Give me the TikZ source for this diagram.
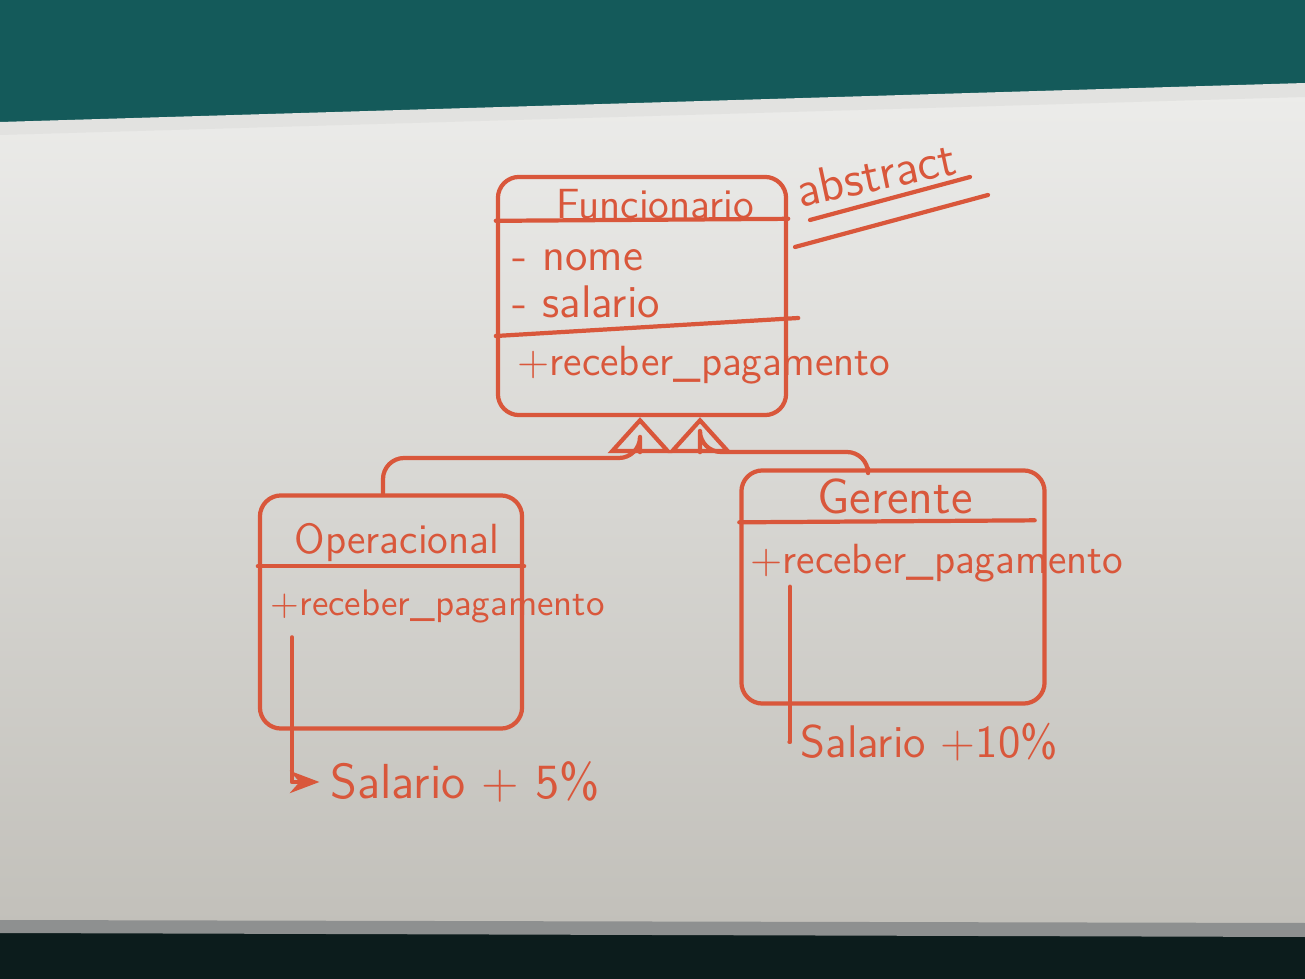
\documentclass[tikz,border=0pt]{standalone}
\usepackage{fontspec}
\usetikzlibrary{calc, positioning, arrows.meta}

\definecolor{marker}{HTML}{D9573B}
\definecolor{wall}{HTML}{145A5A}
\definecolor{walldark}{HTML}{0C1C1C}
\definecolor{boardtop}{HTML}{ECECEA}
\definecolor{boardbot}{HTML}{C2C0BA}
\definecolor{frametop}{HTML}{E2E2E0}
\definecolor{framebot}{HTML}{8E9090}

\newcommand{\penfont}[1]{\sffamily\fontsize{#1}{#1}\selectfont}

\begin{document}
\begin{tikzpicture}[x=0.01cm, y=-0.01cm, >=Stealth,
    pen/.style={draw=marker, line width=1.2pt, line cap=round, line join=round},
    classbox/.style={pen, rectangle, rounded corners=6pt, inner sep=0pt},
    hand/.style={text=marker, inner sep=0pt, font=\penfont{12}},
    inherit/.style={pen, rounded corners=6pt, -{Triangle[open, length=0.36cm, width=0.64cm]}}]

  % Wall and whiteboard
  \useasboundingbox (0,0) rectangle (1305,979);
  \fill[wall] (0,0) rectangle (1305,979);
  \fill[walldark] (0,926) -- (1305,930) -- (1305,979) -- (0,979) -- cycle;
  \shade[top color=boardtop, bottom color=boardbot] (0,130) -- (1305,92) -- (1305,925) -- (0,922) -- cycle;
  \fill[frametop] (0,122) -- (1305,83) -- (1305,97) -- (0,135) -- cycle;
  \fill[framebot] (0,920) -- (1305,923) -- (1305,937) -- (0,933) -- cycle;

  % Funcionario class
  \node[classbox, minimum width=2.88cm, minimum height=2.38cm] (func) at (642,296) {};
  \node[hand] (functitle) at (655,204) {Funcionario};
  \draw[pen] ($(func.north west)+(0,46)$) -- ($(func.north east)+(0,44)$);
  \node[hand, anchor=west, font=\penfont{13}] (nome) at (512,260) {- nome};
  \node[hand, anchor=west, font=\penfont{13}] (salario) at (512,302) {- salario};
  \draw[pen] ($(func.west)+(0,40)$) -- ($(func.east)+(10,22)$);
  \node[hand, anchor=west] (funcmeth) at (517,365) {+receber\_pagamento};

  % abstract
  \node[hand, font=\penfont{14}, rotate=12] (abs) at (876,174) {abstract};
  \draw[pen] (810,220) -- (970,177);
  \draw[pen] (795,247) -- (988,195);

  % Operacional class
  \node[classbox, minimum width=2.62cm, minimum height=2.33cm] (oper) at (391,612) {};
  \node[hand] (opertitle) at (397,543) {Operacional};
  \draw[pen] ($(oper.north west)+(0,73)$) -- ($(oper.north east)+(0,73)$);
  \node[hand, anchor=west, font=\penfont{10.5}] (opermeth) at (270,606) {+receber\_pagamento};

  % Gerente class
  \node[classbox, minimum width=3.03cm, minimum height=2.33cm] (ger) at (893,587) {};
  \node[hand, font=\penfont{14}] (gertitle) at (895,496) {Gerente};
  \draw[pen] ($(ger.north west)+(0,54)$) -- ($(ger.north east)+(-12,52)$);
  \node[hand, anchor=west] (germeth) at (750,563) {+receber\_pagamento};

  % Inheritance (both point up to Funcionario)
  \coordinate (j1) at (640,458);
  \coordinate (j2) at (700,452);
  \draw[inherit] ($(oper.north)+(-8,0)$) |- (j1) -- (j1 |- func.south);
  \draw[inherit] ($(ger.north)+(-25,0)$) |- (j2) -- (j2 |- func.south);

  % Notes
  \node[hand, font=\penfont{14}, anchor=west] (note1) at (330,782) {Salario + 5\%};
  \draw[pen, ->, shorten >=3pt] ($(opermeth.south west)+(22,14)$) |- (note1.west);
  \node[hand, font=\penfont{13}, anchor=west] (note2) at (800,742) {Salario +10\%};
  \draw[pen, shorten >=3pt] ($(germeth.south west)+(40,4)$) |- (note2.west);

\end{tikzpicture}
\end{document}
